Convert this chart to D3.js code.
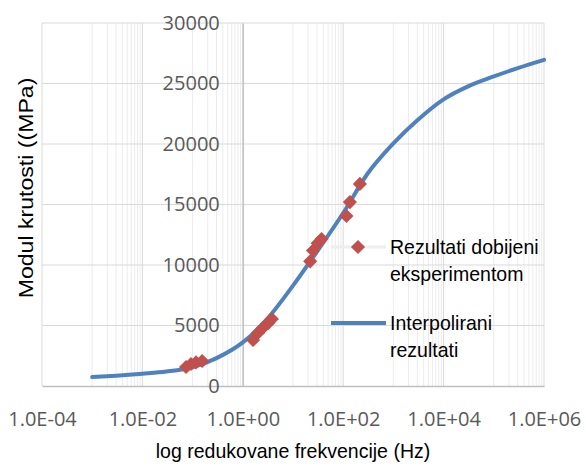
<!DOCTYPE html>
<html>
<head>
<meta charset="utf-8">
<script src="https://cdn.jsdelivr.net/npm/d3@7"></script>
<style>
  html, body { margin: 0; padding: 0; background: #fff; }
  svg { display: block; }
</style>
</head>
<body>
<svg id="chart" width="586" height="466"></svg>
<script>
// Measured points: reduced frequency (Hz) and stiffness modulus (MPa)
const measFreq = [0.074, 0.093, 0.117, 0.155,
                  1.6, 2.0, 2.5, 3.2, 3.8,
                  22, 25, 31, 37,
                  116, 136, 215];
const measModulus = [1570, 1820, 1950, 2070,
                     3800, 4380, 4790, 5200, 5540,
                     10300, 11200, 11800, 12150,
                     14050, 15200, 16700];

// Interpolated master curve
const curveFreq = [1e-3, 3e-3, 1e-2, 3e-2, 1e-1, 3e-1, 1, 3, 10, 30,
                   100, 300, 1e3, 3e3, 1e4, 3e4, 1e5, 3e5, 1e6];
const curveModulus = [740, 850, 1010, 1190, 1550, 2300, 3600, 5500, 8300, 11100,
                      14300, 17500, 20050, 21960, 23690, 24740, 25580, 26270, 26950];

// Axis ticks and labels
const xTicks = [1e-4, 1e-2, 1e0, 1e2, 1e4, 1e6];
const xTickLabels = ["1.0E-04", "1.0E-02", "1.0E+00", "1.0E+02", "1.0E+04", "1.0E+06"];
const yTicks = [0, 5000, 10000, 15000, 20000, 25000, 30000];
const yTickLabels = ["0", "5000", "10000", "15000", "20000", "25000", "30000"];

const seriesNames = [["Rezultati dobijeni", "eksperimentom"], ["Interpolirani", "rezultati"]];
const xTitle = "log redukovane frekvencije (Hz)";
const yTitle = "Modul krutosti ((MPa)";

const svg = d3.select("#chart");
const plot = { left: 42, right: 544, top: 23, bottom: 386 };

const x = d3.scaleLog().domain([1e-4, 1e6]).range([plot.left, plot.right]);
const y = d3.scaleLinear().domain([0, 30000]).range([plot.bottom, plot.top]);

const narrow = "'Liberation Sans', Arial, sans-serif";
const tickFont = "'Open Sans', 'Segoe UI', sans-serif";
const squeeze = 0.93; // horizontal condensing of the title/legend face

// Minor vertical gridlines: 1..9 x 10^odd inside each two-decade step
const minorX = [];
for (let e = -3; e <= 5; e += 2) {
  for (let k = 1; k <= 9; k++) minorX.push(k * Math.pow(10, e));
}
const grid = svg.append("g");
grid.selectAll("line.minor").data(minorX).join("line")
  .attr("class", "minor")
  .attr("x1", d => x(d)).attr("x2", d => x(d))
  .attr("y1", plot.top).attr("y2", plot.bottom)
  .attr("stroke", "#ececec").attr("stroke-width", 1);
grid.selectAll("line.majorx").data(xTicks).join("line")
  .attr("class", "majorx")
  .attr("x1", d => x(d)).attr("x2", d => x(d))
  .attr("y1", plot.top).attr("y2", plot.bottom)
  .attr("stroke", "#d9d9d9").attr("stroke-width", 1);
grid.selectAll("line.majory").data(yTicks.slice(1)).join("line")
  .attr("class", "majory")
  .attr("x1", plot.left).attr("x2", plot.right)
  .attr("y1", d => y(d)).attr("y2", d => y(d))
  .attr("stroke", "#d9d9d9").attr("stroke-width", 1);

// Axes
const xAxis = svg.append("g")
  .attr("transform", `translate(0,${plot.bottom})`)
  .call(d3.axisBottom(x).tickValues(xTicks)
        .tickFormat((d, i) => xTickLabels[i]).tickSize(0).tickPadding(26));
xAxis.select(".domain").attr("stroke", "#bfbfbf").attr("stroke-width", 1.3);
xAxis.selectAll("text").attr("fill", "#595959")
  .style("font-family", tickFont).style("font-size", "20px");

const yAxis = svg.append("g")
  .attr("transform", `translate(${x(1)},0)`)
  .call(d3.axisLeft(y).tickValues(yTicks)
        .tickFormat((d, i) => yTickLabels[i]).tickSize(0).tickPadding(23));
yAxis.select(".domain").attr("stroke", "#bfbfbf").attr("stroke-width", 1.3);
yAxis.selectAll("text").attr("fill", "#595959")
  .style("font-family", tickFont).style("font-size", "20px");

// Axis titles
svg.append("text")
  .attr("transform", `translate(${(plot.left + plot.right) / 2},458) scale(${squeeze},1)`)
  .attr("text-anchor", "middle")
  .style("font-family", narrow).style("font-size", "21px")
  .attr("fill", "#000")
  .text(xTitle);
svg.append("text")
  .attr("transform", `translate(33,188) rotate(-90) scale(1.1,1)`)
  .attr("text-anchor", "middle")
  .style("font-family", narrow).style("font-size", "21px")
  .attr("fill", "#000")
  .text(yTitle);

// Interpolated curve
const curveData = curveFreq.map((f, i) => [f, curveModulus[i]]);
const line = d3.line()
  .x(d => x(d[0])).y(d => y(d[1]))
  .curve(d3.curveMonotoneX);
svg.append("path")
  .datum(curveData)
  .attr("d", line)
  .attr("fill", "none")
  .attr("stroke", "#4f81bd")
  .attr("stroke-width", 4)
  .attr("stroke-linecap", "round");

// Measured points
const measData = measFreq.map((f, i) => [f, measModulus[i]]);
const diamond = d3.symbol(d3.symbolSquare, 100);
svg.append("g").selectAll("path").data(measData).join("path")
  .attr("d", diamond)
  .attr("transform", d => `translate(${x(d[0])},${y(d[1])}) rotate(45)`)
  .attr("fill", "#c0504d");

// Legend
const legend = svg.append("g");
legend.append("line")
  .attr("x1", 331).attr("x2", 386).attr("y1", 247).attr("y2", 247)
  .attr("stroke", "#eeeeee").attr("stroke-width", 3);
legend.append("path")
  .attr("d", diamond)
  .attr("transform", "translate(358,247) rotate(45)")
  .attr("fill", "#c0504d");
legend.append("line")
  .attr("x1", 331).attr("x2", 386).attr("y1", 323).attr("y2", 323)
  .attr("stroke", "#4f81bd").attr("stroke-width", 4);
const legendRows = [247, 323];
seriesNames.forEach((lines, i) => {
  const t = legend.append("text")
    .attr("transform", `translate(390,${legendRows[i]}) scale(${squeeze},1)`)
    .style("font-family", narrow).style("font-size", "21px")
    .attr("fill", "#000");
  lines.forEach((s, j) => {
    t.append("tspan").attr("x", 0).attr("dy", j === 0 ? "0.35em" : "27px").text(s);
  });
});
</script>
</body>
</html>
